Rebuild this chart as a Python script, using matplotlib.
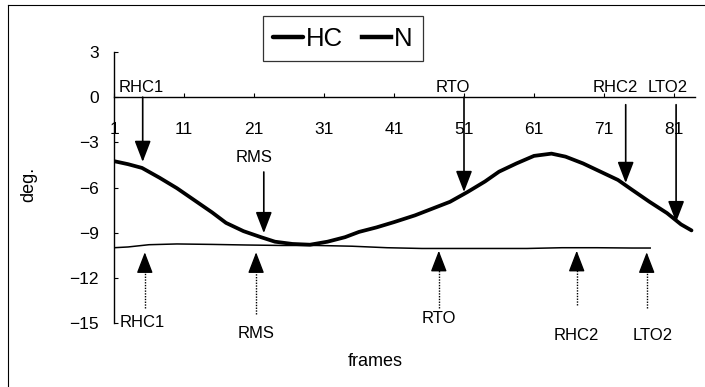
import matplotlib
matplotlib.use("Agg")
import matplotlib.pyplot as plt
from matplotlib.lines import Line2D

plt.rcParams['font.family'] = ['Liberation Sans', 'DejaVu Sans']

# ---------------- data ----------------
hc_frames = [1, 3, 5, 7.5, 10, 12.5, 15, 17, 19.5, 22, 24, 26.5, 29, 31.5, 34, 36,
             38.5, 41, 44, 46.5, 49, 51.5, 54, 56, 58.5, 61, 63.5, 65.5, 68, 70.5,
             73, 75, 77.5, 80, 82, 83.5]
hc_values = [-4.25, -4.45, -4.7, -5.35, -6.05, -6.85, -7.65, -8.35, -8.9, -9.3, -9.6,
             -9.75, -9.8, -9.6, -9.3, -8.95, -8.65, -8.3, -7.85, -7.4, -6.95, -6.3,
             -5.6, -4.95, -4.4, -3.9, -3.75, -3.95, -4.4, -4.95, -5.5, -6.15, -6.95,
             -7.7, -8.45, -8.85]

n_frames = [1, 3, 6, 10, 15, 20, 25, 30, 35, 40, 45, 50, 55, 60, 65, 70, 75, 77.6]
n_values = [-10.0, -9.95, -9.8, -9.75, -9.78, -9.82, -9.85, -9.85, -9.9, -10.0,
            -10.05, -10.05, -10.05, -10.05, -10.0, -10.0, -10.02, -10.02]

events = ['RHC1', 'RMS', 'RTO', 'RHC2', 'LTO2']
# HC events (solid arrows from above)
hc_event_frames = [5.1, 22.4, 51, 74.1, 81.3]
hc_event_tip = [-4.3, -9.03, -6.3, -5.7, -8.3]
hc_event_tail = [0, -4.97, 0, -0.5, -0.5]
hc_label_frames = [4.9, 21.0, 49.4, 72.6, 80.1]
hc_label_y = [0.65, -4.04, 0.65, 0.65, 0.65]
# N events (dotted arrows from below)
n_event_frames = [5.4, 21.3, 47.4, 67.1, 77.1]
n_event_tip = [-10.3, -10.3, -10.2, -10.2, -10.3]
n_event_tail = [-14.0, -14.4, -14.0, -13.8, -14.0]
n_label_frames = [5.1, 21.3, 47.4, 67.1, 77.9]
n_label_y = [-14.94, -15.67, -14.67, -15.8, -15.8]

x_ticks = [1, 11, 21, 31, 41, 51, 61, 71, 81]
y_ticks = [3, 0, -3, -6, -9, -12, -15]

# ---------------- figure ----------------
fig = plt.figure(figsize=(7.05, 3.87), dpi=100)
ax = fig.add_axes([114 / 705, 1 - 323 / 387, 581 / 705, 271 / 387])

ax.plot(hc_frames, hc_values, color='black', lw=2.7, label='HC', solid_capstyle='round')
ax.plot(n_frames, n_values, color='black', lw=1.1, label='N')

ax.set_xlim(1, 84)
ax.set_ylim(-15, 3)

for s in ['top', 'right']:
    ax.spines[s].set_visible(False)
ax.spines['bottom'].set_position(('data', 0))
ax.spines['bottom'].set_linewidth(1.0)
ax.spines['left'].set_linewidth(1.0)

ax.set_xticks(x_ticks)
ax.set_xticklabels([str(t) for t in x_ticks])
ax.set_yticks(y_ticks)
ax.tick_params(axis='x', direction='in', length=3, width=0.8, pad=18, labelsize=12.5)
ax.tick_params(axis='y', direction='in', length=3, width=0.8, pad=11, labelsize=12.5)

ax.set_ylabel('deg.', fontsize=13)
ax.yaxis.set_label_coords(-0.1325, 0.51)
ax.set_xlabel('frames', fontsize=13)
ax.xaxis.set_label_coords(0.449, -0.11)

head = '-|>,head_length=1.3,head_width=0.5'
head_len_data = 1.2  # arrow head length expressed in degrees for the dotted shafts

for name, x, tip, tail, lx, ly in zip(events, hc_event_frames, hc_event_tip, hc_event_tail,
                                      hc_label_frames, hc_label_y):
    ax.annotate('', xy=(x, tip), xytext=(x, tail),
                arrowprops=dict(arrowstyle=head, color='black', lw=1.2,
                                mutation_scale=10, shrinkA=0, shrinkB=0),
                annotation_clip=False)
    ax.text(lx, ly, name, ha='center', va='center', fontsize=12)

for name, x, tip, tail, lx, ly in zip(events, n_event_frames, n_event_tip, n_event_tail,
                                      n_label_frames, n_label_y):
    base = tip - head_len_data
    ax.plot([x, x], [tail, base], color='black', lw=1.0, linestyle=(0, (1, 1)),
            clip_on=False)
    ax.annotate('', xy=(x, tip), xytext=(x, base - 0.05),
                arrowprops=dict(arrowstyle=head, color='black', lw=1.0,
                                mutation_scale=10, shrinkA=0, shrinkB=0),
                annotation_clip=False)
    ax.text(lx, ly, name, ha='center', va='center', fontsize=12)

leg = ax.legend(loc='center', bbox_to_anchor=(343 / 705, 1 - 38.5 / 387),
                bbox_transform=fig.transFigure, ncol=2, fontsize=18.5,
                handlelength=1.15, handletextpad=0.1, columnspacing=0.75,
                borderpad=0.4, fancybox=False, frameon=True)
leg.get_frame().set_edgecolor('black')
leg.get_frame().set_linewidth(0.9)
for l in leg.get_lines():
    l.set_linewidth(3.2)

# figure border (left and top)
fig.add_artist(Line2D([8 / 705, 8 / 705], [0, 1 - 5 / 387], transform=fig.transFigure,
                      color='black', lw=0.8))
fig.add_artist(Line2D([8 / 705, 1], [1 - 5 / 387, 1 - 5 / 387], transform=fig.transFigure,
                      color='black', lw=0.8))

fig.savefig('out.png', dpi=100)
